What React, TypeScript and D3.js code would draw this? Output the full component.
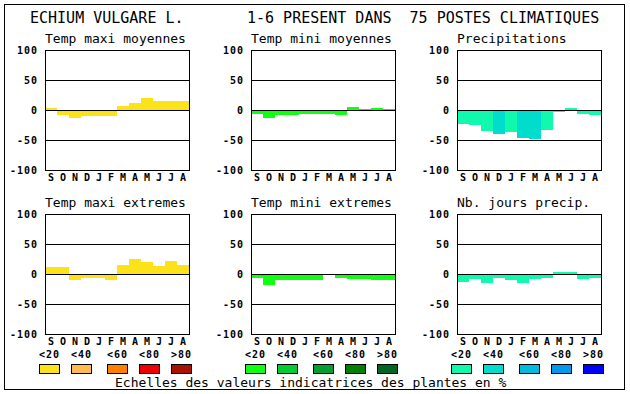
import React from "react";
import * as d3 from "d3";

const months = ["S", "O", "N", "D", "J", "F", "M", "A", "M", "J", "J", "A"];
const yTicks = [100, 50, 0, -50, -100];
const gridValues = [50, 0, -50];

const tmaxMoy = [4, -6, -11, -8, -8, -8, 7, 12, 20, 15, 15, 15];
const tminMoy = [-5, -12, -6, -6, -5, -5, -5, -6, 5, 2, 4, 2];
const precip = [-21, -23, -33, -38, -35, -45, -47, -32, -2, 4, -5, -6];
const tmaxExt = [12, 12, -8, -5, -5, -8, 15, 25, 20, 14, 22, 15];
const tminExt = [-5, -16, -8, -8, -8, -8, 0, -5, -6, -6, -8, -8];
const nbJours = [-11, -6, -13, -5, -8, -13, -6, -5, 4, 4, -6, -5];

const precipClass = [0, 0, 0, 1, 0, 1, 1, 0, 0, 0, 0, 0];
const zeroClass = [0, 0, 0, 0, 0, 0, 0, 0, 0, 0, 0, 0];

const legendLabels = ["<20", "<40", "<60", "<80", ">80"];
const yellowScale = ["#FBE219", "#FFBB50", "#FF8000", "#EE0000", "#AA1100"];
const greenScale = ["#11FF11", "#00CC33", "#00A030", "#008000", "#006622"];
const blueScale = ["#11F9AC", "#00DDCC", "#00BBDD", "#0099EE", "#0000FF"];

const titleLeft = "ECHIUM VULGARE L.";
const titleRight = "1-6 PRESENT DANS  75 POSTES CLIMATIQUES";
const footer = "Echelles des valeurs indicatrices des plantes en %";

const MONO = "'DejaVu Sans Mono', 'Liberation Mono', monospace";

type PanelDef = {
  title: string;
  values: number[];
  classes: number[];
  palette: string[];
  left: number;
  top: number;
};

const colLefts = [45, 251, 457];
const rowTops = [50, 214];
const PW = 144;
const PH = 120;

const panels: PanelDef[] = [
  { title: "Temp maxi moyennes", values: tmaxMoy, classes: zeroClass, palette: yellowScale, left: colLefts[0], top: rowTops[0] },
  { title: "Temp mini moyennes", values: tminMoy, classes: zeroClass, palette: greenScale, left: colLefts[1], top: rowTops[0] },
  { title: "Precipitations", values: precip, classes: precipClass, palette: blueScale, left: colLefts[2], top: rowTops[0] },
  { title: "Temp maxi extremes", values: tmaxExt, classes: zeroClass, palette: yellowScale, left: colLefts[0], top: rowTops[1] },
  { title: "Temp mini extremes", values: tminExt, classes: zeroClass, palette: greenScale, left: colLefts[1], top: rowTops[1] },
  { title: "Nb. jours precip.", values: nbJours, classes: zeroClass, palette: blueScale, left: colLefts[2], top: rowTops[1] },
];

function Panel({ p, idx }: { p: PanelDef; idx: number }) {
  const x = d3.scaleBand<number>().domain(d3.range(12)).range([p.left, p.left + PW]).padding(0);
  const y = d3.scaleLinear().domain([-100, 100]).range([p.top + PH, p.top]);
  return (
    <g>
      <text x={p.left} y={p.top - 7} fontFamily={MONO} fontSize={13} fill="#000">
        {p.title}
      </text>
      {p.values.map((v, i) => {
        const y0 = y(0);
        const y1 = y(v);
        return (
          <rect
            key={i}
            x={x(i)}
            y={Math.round(Math.min(y0, y1))}
            width={x.bandwidth()}
            height={Math.round(Math.abs(y1 - y0)) + 1}
            fill={p.palette[p.classes[i]]}
            shapeRendering="crispEdges"
          />
        );
      })}
      {gridValues.map((g) => (
        <line
          key={g}
          x1={p.left}
          x2={p.left + PW}
          y1={y(g) + 0.5}
          y2={y(g) + 0.5}
          stroke="#000"
          strokeWidth={1}
          shapeRendering="crispEdges"
        />
      ))}
      <rect
        x={p.left + 0.5}
        y={p.top + 0.5}
        width={PW}
        height={PH}
        fill="none"
        stroke="#000"
        strokeWidth={1}
        shapeRendering="crispEdges"
      />
      {yTicks.map((t) => (
        <text
          key={t}
          x={p.left - 7}
          y={y(t) + 4}
          textAnchor="end"
          fontFamily={MONO}
          fontWeight="bold"
          fontSize={10}
          letterSpacing={1}
          fill="#000"
        >
          {t}
        </text>
      ))}
      {months.map((m, i) => (
        <text
          key={i + "-" + idx}
          x={(x(i) as number) + x.bandwidth() / 2}
          y={p.top + PH + 10.5}
          textAnchor="middle"
          fontFamily={MONO}
          fontWeight="bold"
          fontSize={10}
          fill="#000"
        >
          {m}
        </text>
      ))}
    </g>
  );
}

const legendOffsets = [0, 32, 68, 100, 132];
const legendStarts = [39, 245, 451];
const legendPalettes = [yellowScale, greenScale, blueScale];

export default function App() {
  return (
    <div style={{ position: "fixed", left: 0, top: 0 }}>
      <svg width={630} height={394} viewBox="0 0 630 394" style={{ display: "block", background: "#fff" }}>
        <rect x={0} y={0} width={630} height={394} fill="#fff" />
        <rect x={4.5} y={4.5} width={620} height={385} fill="none" stroke="#000" strokeWidth={1} shapeRendering="crispEdges" />
        <text x={30} y={23} fontFamily={MONO} fontSize={15} fill="#000">
          {titleLeft}
        </text>
        <text x={247} y={23} fontFamily={MONO} fontSize={15} fill="#000" xmlSpace="preserve" style={{ whiteSpace: "pre" }}>
          {titleRight}
        </text>
        {panels.map((p, i) => (
          <Panel key={i} p={p} idx={i} />
        ))}
        {legendStarts.map((sx, gi) => (
          <g key={gi}>
            {legendLabels.map((lab, li) => (
              <g key={li}>
                <text
                  x={sx + legendOffsets[li]}
                  y={358}
                  fontFamily={MONO}
                  fontWeight="bold"
                  fontSize={10}
                  letterSpacing={1}
                  fill="#000"
                >
                  {lab}
                </text>
                <rect
                  x={sx + legendOffsets[li] + 0.5}
                  y={364.5}
                  width={20}
                  height={9}
                  fill={legendPalettes[gi][li]}
                  stroke="#000"
                  strokeWidth={1}
                  shapeRendering="crispEdges"
                />
              </g>
            ))}
          </g>
        ))}
        <text x={115} y={387} fontFamily={MONO} fontSize={13} fill="#000">
          {footer}
        </text>
      </svg>
    </div>
  );
}
